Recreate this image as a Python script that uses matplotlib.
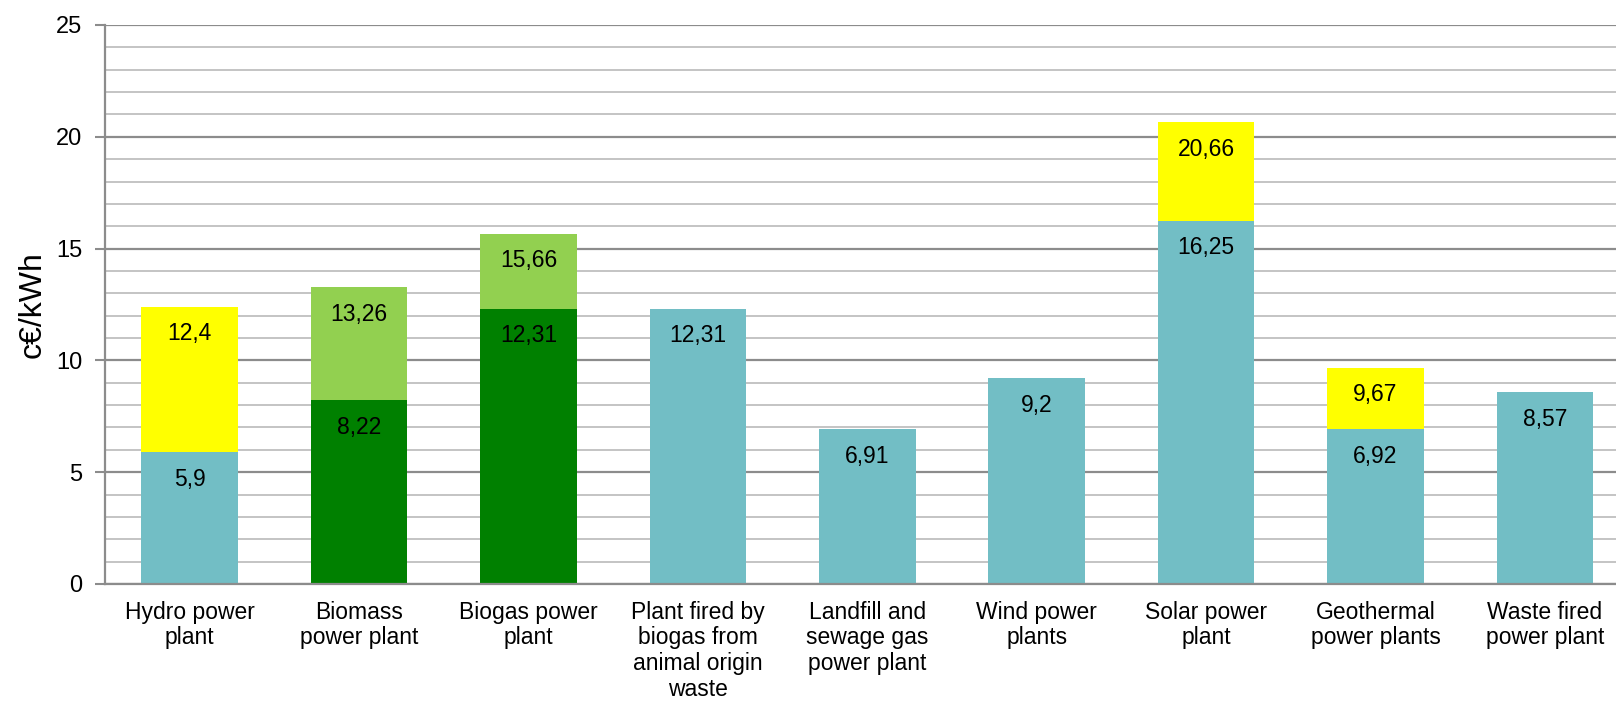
import matplotlib.pyplot as plt
from matplotlib.ticker import MultipleLocator

categories = ["Hydro power\nplant", "Biomass\npower plant", "Biogas power\nplant",
              "Plant fired by\nbiogas from\nanimal origin\nwaste",
              "Landfill and\nsewage gas\npower plant", "Wind power\nplants",
              "Solar power\nplant", "Geothermal\npower plants", "Waste fired\npower plant"]
base_values = [5.9, 8.22, 12.31, 12.31, 6.91, 9.2, 16.25, 6.92, 8.57]
top_values = [12.4, 13.26, 15.66, None, None, None, 20.66, 9.67, None]
base_colors = ["#72BEC5", "#008000", "#008000", "#72BEC5", "#72BEC5",
               "#72BEC5", "#72BEC5", "#72BEC5", "#72BEC5"]
top_colors = ["#FFFF00", "#92D050", "#92D050", None, None, None,
              "#FFFF00", "#FFFF00", None]

plt.rcParams['font.family'] = ['Liberation Sans', 'DejaVu Sans']

fig = plt.figure(figsize=(16.16, 7.10), dpi=100)
ax = fig.add_axes([0.065, 0.1775, 0.935, 0.7873])

x = list(range(len(categories)))
width = 0.57


def fmt(v):
    return ("%g" % v).replace(".", ",")


def label(xi, top):
    ax.annotate(fmt(top), (xi, top), xytext=(0, -19.5), textcoords="offset points",
                ha="center", va="center", fontsize=16.5, color="black")


for i in x:
    ax.bar(i, base_values[i], width=width, color=base_colors[i], zorder=3)
    label(i, base_values[i])
    if top_values[i] is not None:
        ax.bar(i, top_values[i] - base_values[i], bottom=base_values[i], width=width,
               color=top_colors[i], zorder=3)
        label(i, top_values[i])

ax.set_xlim(-0.5, 8.42)
ax.set_ylim(0, 25)
ax.yaxis.set_major_locator(MultipleLocator(5))
ax.yaxis.set_minor_locator(MultipleLocator(1))
ax.grid(axis="y", which="major", color="#8c8c8c", linewidth=1.6, zorder=0)
ax.grid(axis="y", which="minor", color="#c4c4c4", linewidth=1.4, zorder=0)

ax.set_xticks(x)
ax.set_xticklabels(categories, fontsize=16.5, linespacing=1.15)
ax.tick_params(axis="x", length=0, pad=12)
ax.tick_params(axis="y", which="major", length=7.5, width=1.5, color="#8c8c8c",
               labelsize=17, pad=9)
ax.tick_params(axis="y", which="minor", length=0)

for side in ["top", "right"]:
    ax.spines[side].set_visible(False)
for side in ["left", "bottom"]:
    ax.spines[side].set_color("#8c8c8c")
    ax.spines[side].set_linewidth(1.6)
    ax.spines[side].set_zorder(4)

ax.set_ylabel("c€/kWh", fontsize=23)
ax.yaxis.set_label_coords(-0.038, 0.5)

fig.savefig("out.png", dpi=100)
